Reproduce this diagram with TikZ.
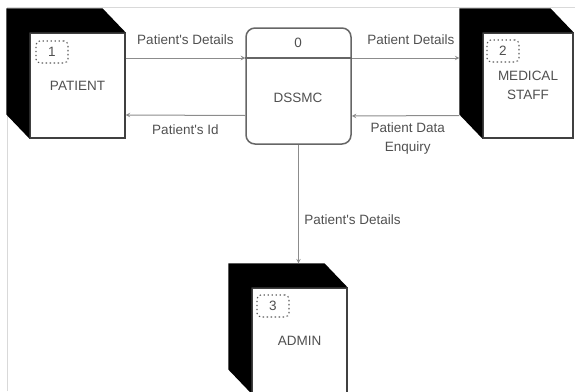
\documentclass[tikz,border=0pt]{standalone}
\usepackage{fontspec}
\setmainfont{Liberation Sans}
\usetikzlibrary{positioning}

\definecolor{txtgray}{HTML}{505050}
\definecolor{linegray}{HTML}{8C8C8C}

\begin{document}
\begin{tikzpicture}[x=1pt,y=-1pt,>=stealth,font=\fontsize{13.5}{19}\selectfont,text=txtgray,
  entity/.style={draw=black!75,fill=white,line width=1.2pt,minimum height=105pt,inner sep=0pt,align=center},
  numbox/.style={draw=black!65,rounded corners=4pt,dash pattern=on 1.4pt off 2.6pt,line width=1.1pt,
    minimum width=32pt,minimum height=22pt,inner sep=0pt},
  process/.style={draw=black!60,line width=1.5pt,rounded corners=9pt,minimum width=105pt,minimum height=116pt},
  flow/.style={->,draw=linegray,line width=1pt}]
  \useasboundingbox (0,0) rectangle (575,391);
  \clip (0,0) rectangle (575,391);
  \draw[gray!30,line width=1pt] (7,391) -- (7,7) -- (575,7);

  % external entities
  \node[entity,minimum width=95pt] (patient) at (77.5,85.5) {PATIENT};
  \node[entity,minimum width=90pt] (medical) at (528,85.5) {MEDICAL\\STAFF};
  \node[entity,minimum width=95pt] (admin) at (299.5,340.5) {ADMIN};
  \foreach \e in {patient,medical,admin}
    \fill ([shift={(-23pt,24pt)}]\e.north west) -- ([shift={(-23pt,24pt)}]\e.north east)
      -- (\e.north east) -- (\e.north west) -- (\e.south west)
      -- ([shift={(-23pt,24pt)}]\e.south west) -- cycle;

  \node[numbox,below right=8pt and 6pt of patient.north west] (n1) {1};
  \node[numbox,below right=7pt and 4pt of medical.north west] (n2) {2};
  \node[numbox,below right=7pt and 5pt of admin.north west] (n3) {3};

  % process
  \node[process] (proc) at (298.5,86) {};
  \coordinate (split) at (298.5,58);
  \draw[black!60,line width=1.5pt] (proc.west |- split) -- (proc.east |- split);
  \node (pnum) at (298,43) {0};
  \node (pname) at (298,98) {DSSMC};

  % data flows
  \draw[flow] (patient.east |- split) -- (proc.west |- split)
    node[midway,above=10pt] {Patient\textquotesingle s Details};
  \draw[flow] ([yshift=-29.5pt]proc.west) -- ([yshift=-29.5pt]patient.east)
    node[midway,below=6pt] {Patient\textquotesingle s Id};
  \draw[flow] (proc.east |- split) -- ([xshift=-23pt]medical.west |- split)
    node[pos=0.55,above=10pt] {Patient Details};
  \draw[flow] ([shift={(-23pt,-30pt)}]medical.west) -- ([yshift=-30pt]proc.east)
    node[pos=0.48,below=3pt,align=center] {Patient Data\\Enquiry};
  \draw[flow] (proc.south) -- ([yshift=24pt]admin.north -| proc.south)
    node[pos=0.63,right=2pt] {Patient\textquotesingle s Details};
\end{tikzpicture}
\end{document}
